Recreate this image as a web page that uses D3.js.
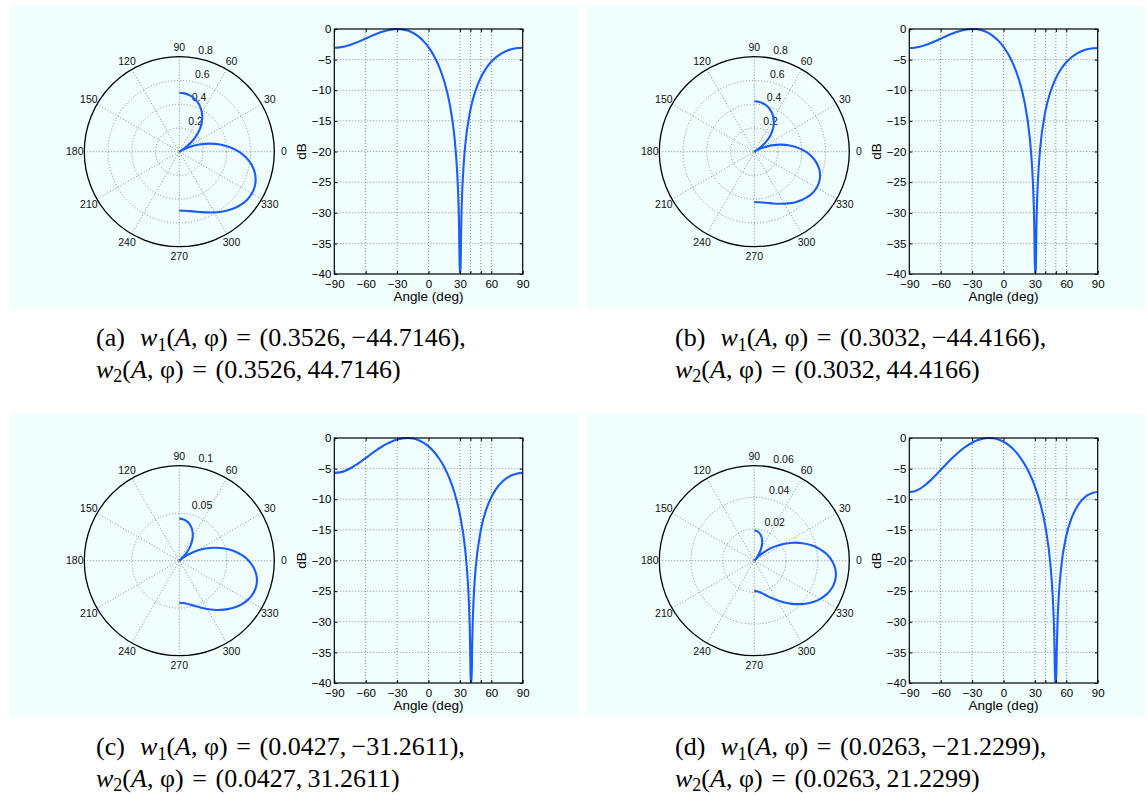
<!DOCTYPE html>
<html>
<head>
<meta charset="utf-8">
<script src="https://cdn.jsdelivr.net/npm/d3@7"></script>
<style>
  body { margin: 0; background: #ffffff; }
  svg { display: block; }
</style>
</head>
<body>
<svg id="chart" width="1147" height="794"></svg>
<script>
// ---- weights for the four cases: amplitude A and phase (deg) ----
const panelLabels = ["a", "b", "c", "d"];
const amplitude = [0.3526, 0.3032, 0.0427, 0.0263];
const phaseDeg = [44.7146, 44.4166, 31.2611, 21.2299];

// ---- polar ring ticks (last value is the outer circle) ----
const ringTicks = [
  [0.2, 0.4, 0.6, 0.8],
  [0.2, 0.4, 0.6, 0.8],
  [0.05, 0.1],
  [0.02, 0.04, 0.06]
];
const spokeLabels = [0, 30, 60, 90, 120, 150, 180, 210, 240, 270, 300, 330];

// ---- array response in dB versus angle (deg), one pair per case ----
const angleA = [-90,-85,-80,-75,-70,-65,-60,-55,-50,-45,-40,-35,-30,-25,-20,-15,-10,-5,0,5,10,15,20,25,
  27.2,28.2,29.2,29.7,30.2,30.7,31.2,32.2,33.2,35,40,45,50,55,60,65,70,75,80,85,90];
const gainA = [-3.05,-3.00,-2.85,-2.61,-2.30,-1.94,-1.55,-1.16,-0.80,-0.48,-0.23,-0.06,0.00,-0.06,-0.26,-0.62,-1.17,-1.94,-2.97,-4.32,-6.11,-8.53,-12.03,-17.98,
  -22.82,-26.36,-32.38,-38.34,-40,-38.73,-32.64,-26.62,-23.14,-19.14,-13.25,-10.04,-7.93,-6.44,-5.36,-4.56,-3.97,-3.55,-3.27,-3.11,-3.05];

const angleB = [-90,-85,-80,-75,-70,-65,-60,-55,-50,-45,-40,-35,-30,-25,-20,-15,-10,-5,0,5,10,15,20,25,
  27.4,28.4,29.4,29.9,30.4,30.9,31.4,32.4,33.4,35,40,45,50,55,60,65,70,75,80,85,90];
const gainB = [-3.10,-3.05,-2.89,-2.65,-2.33,-1.97,-1.58,-1.19,-0.82,-0.50,-0.24,-0.07,0.00,-0.05,-0.25,-0.60,-1.15,-1.90,-2.92,-4.26,-6.03,-8.42,-11.85,-17.63,
  -22.78,-26.30,-32.23,-38.03,-40,-39.09,-32.83,-26.73,-23.22,-19.56,-13.45,-10.18,-8.04,-6.53,-5.43,-4.62,-4.02,-3.60,-3.32,-3.15,-3.10];

const angleC = [-90,-85,-80,-75,-70,-65,-60,-55,-50,-45,-40,-35,-30,-25,-20,-15,-10,-5,0,5,10,15,20,25,30,35,
  37.7,38.7,39.7,40.2,40.7,41.2,41.7,42.7,43.7,45,50,55,60,65,70,75,80,85,90];
const gainC = [-5.70,-5.61,-5.37,-4.98,-4.47,-3.89,-3.27,-2.64,-2.03,-1.47,-0.97,-0.56,-0.25,-0.06,0.00,-0.08,-0.33,-0.75,-1.36,-2.20,-3.31,-4.73,-6.58,-9.03,-12.49,-18.14,
  -23.80,-27.32,-33.23,-38.93,-40,-40,-34.08,-27.95,-24.44,-21.37,-15.03,-11.75,-9.66,-8.22,-7.21,-6.51,-6.05,-5.79,-5.70];

const angleD = [-90,-85,-80,-75,-70,-65,-60,-55,-50,-45,-40,-35,-30,-25,-20,-15,-10,-5,0,5,10,15,20,25,30,35,40,45,
  46.8,47.8,48.8,49.3,49.8,50.3,50.8,51.8,52.8,55,60,65,70,75,80,85,90];
const gainD = [-8.82,-8.69,-8.31,-7.71,-6.96,-6.11,-5.21,-4.31,-3.44,-2.64,-1.91,-1.28,-0.77,-0.38,-0.12,-0.01,-0.04,-0.24,-0.61,-1.17,-1.94,-2.94,-4.22,-5.83,-7.89,-10.61,-14.45,-20.97,
  -25.16,-28.73,-34.72,-40,-40,-40,-35.38,-29.33,-25.86,-21.27,-15.95,-13.09,-11.30,-10.13,-9.38,-8.96,-8.82];

const angles = [angleA, angleB, angleC, angleD];
const gains = [gainA, gainB, gainC, gainD];

// ---- rectangular axis ticks ----
const xTickLabels = [-90, -60, -30, 0, 30, 60, 90];
const xTickMarks = [-90, -60, -30, 0, 30, 40, 50, 60, 90];
const xGridLines = [-60, -30, 0, 30, 40, 50, 60];
const yTicks = [0, -5, -10, -15, -20, -25, -30, -35, -40];

// ---- layout ----
const panelBoxes = [
  { x: 10, y: 6, w: 568, h: 302 },
  { x: 585, y: 6, w: 560, h: 302 },
  { x: 10, y: 414, w: 568, h: 303 },
  { x: 585, y: 414, w: 560, h: 303 }
];
const offsets = [[0, 0], [575, 0], [0, 409], [575, 409]];
const captionPos = [[96, 346], [675, 346], [96, 755], [675, 755]];

const BLUE = "#1a5cff";
const GRID = "#8a8a8a";
const SANS = "'Liberation Sans', Arial, Helvetica, sans-serif";
const SERIF = "'Liberation Serif', 'Times New Roman', serif";
const fmtTick = d => (d < 0 ? "\u2212" + Math.abs(d) : String(d));

const svg = d3.select("#chart");
const defs = svg.append("defs");

panelBoxes.forEach(b => {
  svg.append("rect").attr("x", b.x).attr("y", b.y).attr("width", b.w).attr("height", b.h)
    .attr("fill", "#f0fefe");
});

angles.forEach((angleArr, i) => {
  const [ox, oy] = offsets[i];
  const gainArr = gains[i];
  const g = svg.append("g");

  // ================= polar plot =================
  const cx = 179.3 + ox, cy = 151.7 + oy, R = 95;
  const ticks = ringTicks[i];
  const rMax = ticks[ticks.length - 1];
  const rScale = d3.scaleLinear().domain([0, rMax]).range([0, R]);
  const pg = g.append("g").attr("transform", `translate(${cx},${cy})`);

  // spokes
  d3.range(0, 180, 30).forEach(a => {
    const t = a * Math.PI / 180;
    pg.append("line")
      .attr("x1", -R * Math.cos(t)).attr("y1", R * Math.sin(t))
      .attr("x2", R * Math.cos(t)).attr("y2", -R * Math.sin(t))
      .attr("stroke", GRID).attr("stroke-width", 1).attr("stroke-dasharray", "1,2");
  });
  // inner rings
  ticks.slice(0, -1).forEach(v => {
    pg.append("circle").attr("r", rScale(v)).attr("fill", "none")
      .attr("stroke", GRID).attr("stroke-width", 1).attr("stroke-dasharray", "1,2");
  });
  // outer circle
  pg.append("circle").attr("r", R).attr("fill", "none")
    .attr("stroke", "#000").attr("stroke-width", 1.3);

  // ring labels along the 82 degree direction
  const c82 = Math.cos(82 * Math.PI / 180), s82 = Math.sin(82 * Math.PI / 180);
  const rinc = rScale(ticks[0]);
  ticks.forEach(v => {
    const rr = rScale(v) + rinc / 20;
    pg.append("text")
      .attr("x", rr * c82 + 5.6).attr("y", -rr * s82 - 2)
      .attr("font-family", SANS).attr("font-size", 10.5).attr("fill", "#111")
      .text(String(v));
  });
  // angle labels
  spokeLabels.forEach(a => {
    const t = a * Math.PI / 180;
    pg.append("text")
      .attr("x", 1.1 * R * Math.cos(t)).attr("y", -1.1 * R * Math.sin(t))
      .attr("dy", "0.36em").attr("text-anchor", "middle")
      .attr("font-family", SANS).attr("font-size", 10.5).attr("fill", "#111")
      .text(String(a));
  });

  // pattern magnitude on the polar axes
  const peak = 2 * amplitude[i];
  const polarPts = angleArr.map((a, k) => ({ a, m: peak * Math.pow(10, gainArr[k] / 20) }));
  const radial = d3.lineRadial()
    .angle(d => Math.PI / 2 - d.a * Math.PI / 180)
    .radius(d => rScale(d.m))
    .curve(d3.curveCatmullRom);
  pg.append("path").attr("d", radial(polarPts))
    .attr("fill", "none").attr("stroke", BLUE).attr("stroke-width", 2.1)
    .attr("stroke-linejoin", "round");

  // ================= dB plot =================
  const x0 = 334.3 + ox, x1 = 522.7 + ox, y0 = 29 + oy, y1 = 274 + oy;
  const x = d3.scaleLinear().domain([-90, 90]).range([x0, x1]);
  const y = d3.scaleLinear().domain([-40, 0]).range([y1, y0]);

  // grid
  xGridLines.forEach(v => {
    g.append("line").attr("x1", x(v)).attr("x2", x(v)).attr("y1", y0).attr("y2", y1)
      .attr("stroke", GRID).attr("stroke-width", 1).attr("stroke-dasharray", "1,2");
  });
  yTicks.slice(1, -1).forEach(v => {
    g.append("line").attr("x1", x0).attr("x2", x1).attr("y1", y(v)).attr("y2", y(v))
      .attr("stroke", GRID).attr("stroke-width", 1).attr("stroke-dasharray", "1,2");
  });

  // curve
  const clipId = "clip" + i;
  defs.append("clipPath").attr("id", clipId).append("rect")
    .attr("x", x0).attr("y", y0 - 1).attr("width", x1 - x0).attr("height", y1 - y0 + 1);
  const line = d3.line().x(d => x(d[0])).y(d => y(d[1])).curve(d3.curveMonotoneX);
  g.append("path").attr("d", line(angleArr.map((a, k) => [a, gainArr[k]])))
    .attr("clip-path", `url(#${clipId})`)
    .attr("fill", "none").attr("stroke", BLUE).attr("stroke-width", 2.1)
    .attr("stroke-linejoin", "round");

  // axes (ticks pointing inward)
  const styleAxis = sel => {
    sel.select(".domain").remove();
    sel.selectAll(".tick line").attr("stroke", "#000");
    sel.selectAll(".tick text").attr("font-family", SANS).attr("font-size", 11.5).attr("fill", "#000");
  };
  g.append("g").attr("transform", `translate(0,${y1})`)
    .call(d3.axisBottom(x).tickValues(xTickMarks).tickSize(-3).tickPadding(5.5)
      .tickFormat(d => xTickLabels.includes(d) ? fmtTick(d) : ""))
    .call(styleAxis);
  g.append("g").attr("transform", `translate(0,${y0})`)
    .call(d3.axisTop(x).tickValues(xTickMarks).tickSize(-3).tickFormat(() => ""))
    .call(styleAxis);
  g.append("g").attr("transform", `translate(${x0},0)`)
    .call(d3.axisLeft(y).tickValues(yTicks).tickSize(-3).tickPadding(3).tickFormat(fmtTick))
    .call(styleAxis);
  g.append("g").attr("transform", `translate(${x1},0)`)
    .call(d3.axisRight(y).tickValues(yTicks).tickSize(-3).tickFormat(() => ""))
    .call(styleAxis);

  g.append("rect").attr("x", x0).attr("y", y0).attr("width", x1 - x0).attr("height", y1 - y0)
    .attr("fill", "none").attr("stroke", "#000").attr("stroke-width", 1.2);

  g.append("text")
    .attr("transform", `translate(${x0 - 33},${(y0 + y1) / 2}) rotate(-90)`)
    .attr("text-anchor", "middle").attr("dy", "0.35em")
    .attr("font-family", SANS).attr("font-size", 13.5).attr("fill", "#000")
    .text("dB");
  g.append("text")
    .attr("x", (x0 + x1) / 2).attr("y", y1 + 27)
    .attr("text-anchor", "middle")
    .attr("font-family", SANS).attr("font-size", 13.5).attr("fill", "#000")
    .text("Angle (deg)");

  // ================= caption =================
  const [tx, ty] = captionPos[i];
  const A = amplitude[i].toFixed(4), P = phaseDeg[i].toFixed(4);
  const args = ",\u2005\u03C6)\u2004=\u2004(";
  const lines = [
    [
      { t: `(${panelLabels[i]})\u2002\u200A` },
      { t: "w", it: true }, { t: "1", sub: true },
      { t: "(" }, { t: "A", it: true }, { t: args + A + ",\u2009\u2212" + P + ")," }
    ],
    [
      { t: "w", it: true }, { t: "2", sub: true },
      { t: "(" }, { t: "A", it: true }, { t: args + A + ",\u2009" + P + ")" }
    ]
  ];
  lines.forEach((segs, li) => {
    const txt = svg.append("text")
      .attr("x", tx).attr("y", ty + li * 31.5)
      .attr("font-family", SERIF).attr("font-size", 26).attr("fill", "#000")
      .attr("xml:space", "preserve");
    segs.forEach((s, k) => {
      const sp = txt.append("tspan").text(s.t);
      if (s.it) sp.attr("font-style", "italic");
      if (s.sub) sp.attr("font-size", 18).attr("dy", 4.5);
      else if (k > 0 && segs[k - 1].sub) sp.attr("dy", -4.5);
    });
  });
});
</script>
</body>
</html>
